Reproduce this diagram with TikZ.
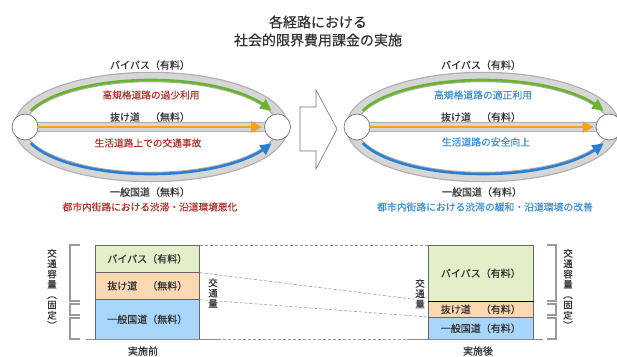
\documentclass[tikz,border=0pt]{standalone}
\usepackage{fontspec}
\setmainfont{Noto Sans CJK JP}[FakeBold=0.45]
\usetikzlibrary{arrows.meta,bending,calc}
\definecolor{txt}{HTML}{333333}
\definecolor{redt}{HTML}{B5322D}
\definecolor{bluet}{HTML}{3A8FD6}
\definecolor{bandedge}{HTML}{AFAFAF}
\definecolor{bandfill}{HTML}{D6D6D6}
\definecolor{garrow}{HTML}{6AB42D}
\definecolor{oarrow}{HTML}{F5A020}
\definecolor{barrow}{HTML}{2A7FD0}
\definecolor{gfill}{HTML}{E3EFC8}
\definecolor{ofill}{HTML}{FAD9B2}
\definecolor{bfill}{HTML}{A8D5FA}
\definecolor{brk}{HTML}{9A9A9A}
\tikzset{
  lbl/.style={font=\fontsize{10}{12}\selectfont, text=txt, inner sep=0pt},
  redl/.style={font=\fontsize{9.7}{12}\selectfont, text=redt, inner sep=0pt},
  bluel/.style={font=\fontsize{9.8}{12}\selectfont, text=bluet, inner sep=0pt},
  circ/.style={circle, minimum size=26, inner sep=0pt, draw=black!55, line width=0.7pt, fill=white},
  bandout/.style={line width=10.5pt, draw=bandedge},
  bandin/.style={line width=8pt, draw=bandfill},
  flow/.style={line width=2.6pt, -{Triangle[length=11pt,width=11pt,bend]}},
  sbox/.style={draw=black!60, line width=0.6pt, minimum width=104, inner sep=0pt, font=\fontsize{10}{12}\selectfont, text=txt, anchor=north west},
  vtext/.style={font=\fontsize{9.5}{10.3}\selectfont, text=txt, align=center, inner sep=0pt},
  dashl/.style={draw=black!40, line width=0.6pt, dash pattern=on 3pt off 2pt},
  brack/.style={draw=brk, line width=2.4pt},
  base/.style={draw=black!45, line width=0.8pt}
}
\begin{document}
\begin{tikzpicture}[x=1pt,y=1pt]
\useasboundingbox (0,0) rectangle (617,-356);
% title
\node[font=\fontsize{14}{18}\selectfont, text=txt, align=center, inner sep=0pt] (title) at (318,-31) {各経路における\\社会的限界費用課金の実施};
% centers
\coordinate (E1) at (151,-127);
\coordinate (E2) at (483,-127);
\coordinate (L1c) at (25,-127);
\coordinate (R1c) at (277.5,-127);
\coordinate (L2c) at (357,-127);
\coordinate (R2c) at (609,-127);
% bands
\foreach \c/\a/\b in {E1/L1c/R1c,E2/L2c/R2c}{
  \draw[bandout] (\c) ellipse[x radius=132, y radius=50];
  \draw[bandin] (\c) ellipse[x radius=132, y radius=50];
  \draw[bandout] (\a) -- (\b);
  \draw[bandin] (\a) -- (\b);
}
% circles
\node[circ] (L1) at (L1c) {};
\node[circ] (R1) at (R1c) {};
\node[circ] (L2) at (L2c) {};
\node[circ] (R2) at (R2c) {};
% arrows
\foreach \c in {E1,E2}{
  \draw[flow, garrow] ($(\c)+(160:128 and 47)$) arc[start angle=160, end angle=20, x radius=128, y radius=47];
  \draw[flow, barrow] ($(\c)+(200:128 and 47)$) arc[start angle=200, end angle=340, x radius=128, y radius=47];
}
\draw[flow, oarrow, shorten >=2pt] (L1) -- (R1);
\draw[flow, oarrow, shorten >=2pt] (L2) -- (R2);
% labels left
\node[lbl] (t1) at (150,-65) {バイパス（有料）};
\node[redl] (t2) at (151,-95) {高規格道路の過少利用};
\node[lbl] (t3) at (150,-117) {抜け道　（無料）};
\node[redl] (t4) at (148,-143) {生活道路上での交通事故};
\node[lbl] (t5) at (150,-192) {一般国道（無料）};
\node[redl] (t6) at (150,-207) {都市内街路における渋滞・沿道環境悪化};
% labels right
\node[lbl] (u1) at (481,-65) {バイパス（有料）};
\node[bluel] (u2) at (483,-95) {高規格道路の適正利用};
\node[lbl] (u3) at (481,-117) {抜け道　（有料）};
\node[bluel] (u4) at (486,-142) {生活道路の安全向上};
\node[lbl] (u5) at (482,-192) {一般国道（有料）};
\node[bluel] (u6) at (485,-207) {都市内街路における渋滞の緩和・沿道環境の改善};
% block arrow
\draw[draw=black!55, line width=0.6pt, fill=white] (300,-107) -- (316,-107) -- (316,-90) -- (337,-129) -- (316,-169) -- (316,-151) -- (300,-151) -- cycle;
% bottom: left stack
\node[sbox, fill=gfill, minimum height=27] (lb1) at (95,-245) {バイパス（有料）};
\node[sbox, fill=ofill, minimum height=27] (lb2) at (95,-272) {抜け道　（無料）};
\node[sbox, fill=bfill, minimum height=40] (lb3) at (95,-299) {一般国道（無料）};
% right stack
\node[sbox, fill=gfill, minimum height=56, minimum width=105] (rb1) at (428,-245) {バイパス（有料）};
\node[sbox, fill=ofill, minimum height=16, minimum width=105] (rb2) at (428,-301) {抜け道　（有料）};
\node[sbox, fill=bfill, minimum height=22, minimum width=105] (rb3) at (428,-317) {一般国道（有料）};
\draw[black, line width=1pt] (rb1.south west) -- (rb1.south east);
% dashed connections
\draw[dashl] (lb1.north east) -- (rb1.north west);
\draw[dashl] (lb1.south east) -- (rb2.north west);
\draw[dashl] (lb2.south east) -- (rb3.north west);
% baseline
\coordinate (b0) at (86,-339);
\coordinate (b1) at (218,-339);
\coordinate (b2) at (407,-339);
\coordinate (b3) at (543,-339);
\draw[base] (b0) -- (b1);
\draw[dashl] (b1) -- (b2);
\draw[base] (b2) -- (b3);
% vertical texts
\node[vtext] (v1) at (213,-293) {交\\通\\量};
\node[vtext, fill=white, inner sep=1pt] (v2) at (420,-293.5) {交\\通\\量};
\node[vtext] (v3) at (52,-289) {交\\通\\容\\量\\︵\\固\\定\\︶};
\node[vtext] (v4) at (568,-289) {交\\通\\容\\量\\︵\\固\\定\\︶};
% brackets left
\draw[brack] (80,-245) -- (70,-245) -- (70,-301) -- (80,-301);
\draw[brack] (80,-304) -- (70,-304) -- (70,-315) -- (80,-315);
\draw[brack] (80,-318) -- (70,-318) -- (70,-339) -- (80,-339);
% brackets right
\draw[brack] (547,-245) -- (556,-245) -- (556,-301) -- (547,-301);
\draw[brack] (547,-304) -- (556,-304) -- (556,-315) -- (547,-315);
\draw[brack] (547,-318) -- (556,-318) -- (556,-339) -- (547,-339);
% bottom captions
\node[lbl] (c1) at (143,-351) {実施前};
\node[lbl] (c2) at (478,-351) {実施後};
\end{tikzpicture}
\end{document}
